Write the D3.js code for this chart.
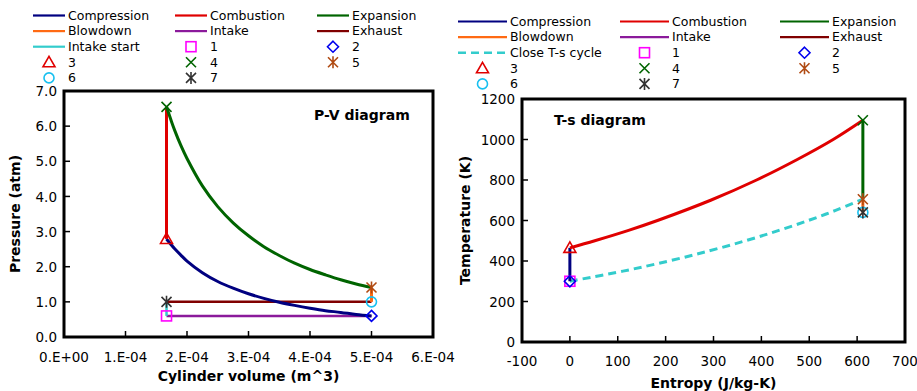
<!DOCTYPE html>
<html><head><meta charset="utf-8">
<script src="https://cdn.jsdelivr.net/npm/d3@7/dist/d3.min.js"></script>
<style>
body{margin:0;background:#fff;}
svg{display:block;font-family:"DejaVu Sans",Verdana,sans-serif;}
</style></head>
<body>
<svg id="chart" width="917" height="391"></svg>
<script>
// ---------- DATA ----------
const lineSeriesPV = ["Compression","Combustion","Expansion","Blowdown","Intake","Exhaust","Intake start"];
const lineSeriesTS = ["Compression","Combustion","Expansion","Blowdown","Intake","Exhaust","Close T-s cycle"];
const stateLabels = ["1","2","3","4","5","6","7"];

// P-V diagram
const compV = [5.0e-4,4.75e-4,4.5e-4,4.25e-4,4.0e-4,3.75e-4,3.5e-4,3.25e-4,3.0e-4,2.75e-4,2.5e-4,2.25e-4,2.0e-4,1.9e-4,1.8e-4,1.75e-4,1.667e-4];
const compP = [0.60,0.64,0.70,0.75,0.82,0.90,0.99,1.10,1.23,1.39,1.58,1.83,2.16,2.33,2.51,2.61,2.79];
const combV = [1.667e-4,1.667e-4];
const combP = [2.79,6.55];
const expV = [1.667e-4,1.75e-4,1.8e-4,1.9e-4,2.0e-4,2.25e-4,2.5e-4,2.75e-4,3.0e-4,3.25e-4,3.5e-4,3.75e-4,4.0e-4,4.25e-4,4.5e-4,4.75e-4,5.0e-4];
const expP = [6.55,6.12,5.88,5.45,5.08,4.30,3.71,3.25,2.88,2.57,2.32,2.10,1.92,1.77,1.63,1.51,1.41];
const blowV = [5.0e-4,5.0e-4];
const blowP = [1.41,1.0];
const exhV = [5.0e-4,1.667e-4];
const exhP = [1.0,1.0];
const intStartV = [1.667e-4,1.667e-4];
const intStartP = [1.0,0.6];
const intV = [1.667e-4,5.0e-4];
const intP = [0.6,0.6];
const stateV = [1.667e-4,5.0e-4,1.667e-4,1.667e-4,5.0e-4,5.0e-4,1.667e-4];
const stateP = [0.6,0.6,2.79,6.55,1.41,1.0,1.0];

// T-s diagram
const tsCompS = [0,0];
const tsCompT = [300,465];
const tsCombS = [0,52,121,183,294,390,474,550,612];
const tsCombT = [465,500,550,600,700,800,900,1000,1095];
const tsExpS = [612,612];
const tsExpT = [1095,705];
const tsBlowS = [612,612];
const tsBlowT = [705,640];
const tsCloseS = [0,111,207,291,367,435,498,555,612];
const tsCloseT = [300,350,400,450,500,550,600,650,705];
const stateS = [0,0,0,612,612,612,612];
const stateT = [300,300,465,1095,705,640,640];

const pvXTicks = [0,1e-4,2e-4,3e-4,4e-4,5e-4,6e-4];
const pvYTicks = [0,1,2,3,4,5,6,7];
const tsXTicks = [-100,0,100,200,300,400,500,600,700];
const tsYTicks = [0,200,400,600,800,1000,1200];

// ---------- STYLE ----------
const lineColors = {"Compression":"#000080","Combustion":"#e00000","Expansion":"#006400","Blowdown":"#ff6a13",
  "Intake":"#8b1a9b","Exhaust":"#800000","Intake start":"#33cccc","Close T-s cycle":"#33cccc"};
const markerDefs = [
  {type:"square",color:"#ff00ff"},
  {type:"diamond",color:"#0000ee"},
  {type:"triangle",color:"#e00000"},
  {type:"x",color:"#006400"},
  {type:"star",color:"#b04a12"},
  {type:"circle",color:"#18c0f0"},
  {type:"star",color:"#333333"}
];

const svg = d3.select("#chart");

function drawMarker(g, type, x, y, color){
  const sw = 1.6;
  if(type==="square"){
    g.append("rect").attr("x",x-5).attr("y",y-5).attr("width",10).attr("height",10)
      .attr("fill","none").attr("stroke",color).attr("stroke-width",sw);
  } else if(type==="diamond"){
    g.append("path").attr("d",`M${x},${y-5.5}L${x+5.5},${y}L${x},${y+5.5}L${x-5.5},${y}Z`)
      .attr("fill","none").attr("stroke",color).attr("stroke-width",sw);
  } else if(type==="triangle"){
    g.append("path").attr("d",`M${x},${y-6}L${x+6},${y+4.5}L${x-6},${y+4.5}Z`)
      .attr("fill","none").attr("stroke",color).attr("stroke-width",sw);
  } else if(type==="x"){
    g.append("path").attr("d",`M${x-5},${y-5}L${x+5},${y+5}M${x-5},${y+5}L${x+5},${y-5}`)
      .attr("fill","none").attr("stroke",color).attr("stroke-width",sw);
  } else if(type==="star"){
    g.append("path").attr("d",`M${x-5},${y-5}L${x+5},${y+5}M${x-5},${y+5}L${x+5},${y-5}M${x},${y-6}L${x},${y+6}`)
      .attr("fill","none").attr("stroke",color).attr("stroke-width",sw);
  } else if(type==="circle"){
    g.append("circle").attr("cx",x).attr("cy",y).attr("r",5)
      .attr("fill","none").attr("stroke",color).attr("stroke-width",sw);
  }
}

function drawLegend(y0, rowH, colX, textOff, lineLen, names, dashedName){
  const g = svg.append("g");
  const items = names.map(n=>({kind:"line",name:n})).concat(stateLabels.map((l,i)=>({kind:"marker",name:l,idx:i})));
  items.forEach((it,i)=>{
    const row = Math.floor(i/3), col = i%3;
    const cx = colX[col], cy = y0 + row*rowH;
    if(it.kind==="line"){
      const ln = g.append("line").attr("x1",cx).attr("x2",cx+lineLen).attr("y1",cy).attr("y2",cy)
        .attr("stroke",lineColors[it.name]).attr("stroke-width",2.2);
      if(it.name===dashedName) ln.attr("stroke-dasharray","8,5").attr("stroke-width",2.5);
    } else {
      drawMarker(g, markerDefs[it.idx].type, cx+lineLen/2, cy, markerDefs[it.idx].color);
    }
    g.append("text").attr("x",cx+lineLen+textOff).attr("y",cy+4.3)
      .attr("font-size","12.5px").attr("fill","#000").text(it.name);
  });
}

function drawFrame(x, y, xTicks, yTicks, xFmt, yFmt, xTitle, yTitle, title, titlePos, yTitleX, xTitleY, xLabelY){
  const g = svg.append("g");
  const [x0,x1] = x.range(), [y0,y1] = y.range();
  xTicks.forEach(t=>{
    g.append("line").attr("x1",x(t)).attr("x2",x(t)).attr("y1",y0).attr("y2",y0-6).attr("stroke","#000").attr("stroke-width",1.5);
    g.append("text").attr("x",x(t)).attr("y",xLabelY).attr("text-anchor","middle").attr("font-size","13.5px").text(xFmt(t));
  });
  yTicks.forEach(t=>{
    g.append("line").attr("x1",x0).attr("x2",x0+6).attr("y1",y(t)).attr("y2",y(t)).attr("stroke","#000").attr("stroke-width",1.5);
    g.append("text").attr("x",x0-7).attr("y",y(t)+5.2).attr("text-anchor","end").attr("font-size","13.5px").text(yFmt(t));
  });
  g.append("text").attr("x",(x0+x1)/2).attr("y",xTitleY).attr("text-anchor","middle")
    .attr("font-size","14px").attr("font-weight","bold").text(xTitle);
  g.append("text").attr("transform",`translate(${yTitleX},${(y0+y1)/2}) rotate(-90)`).attr("text-anchor","middle")
    .attr("font-size","14px").attr("font-weight","bold").text(yTitle);
  g.append("text").attr("x",titlePos[0]).attr("y",titlePos[1])
    .attr("font-size","14px").attr("font-weight","bold").text(title);
  return g;
}
function drawBorder(x,y){
  const [x0,x1] = x.range(), [y0,y1] = y.range();
  svg.append("rect").attr("x",x0).attr("y",y1).attr("width",x1-x0).attr("height",y0-y1)
    .attr("fill","none").attr("stroke","#000").attr("stroke-width",3);
}

function drawSeries(x, y, xs, ys, color, width, dashed){
  const pts = xs.map((v,i)=>[v,ys[i]]);
  const line = d3.line().x(d=>x(d[0])).y(d=>y(d[1]));
  if(xs.length>2) line.curve(d3.curveCatmullRom.alpha(0.5));
  const p = svg.append("path").attr("d",line(pts)).attr("fill","none")
    .attr("stroke",color).attr("stroke-width",width).attr("stroke-linecap","butt");
  if(dashed) p.attr("stroke-dasharray","8,5");
}

// ---------- P-V ----------
const xPV = d3.scaleLinear().domain([0,6e-4]).range([64,433]);
const yPV = d3.scaleLinear().domain([0,7]).range([337,91]);
const sciFmt = v => {
  if(v===0) return "0.E+00";
  const e = Math.floor(Math.log10(Math.abs(v))+1e-9);
  const m = Math.round(v/Math.pow(10,e));
  return `${m}.E${e<0?"-":"+"}${String(Math.abs(e)).padStart(2,"0")}`;
};
drawFrame(xPV,yPV,pvXTicks,pvYTicks,sciFmt,d3.format(".1f"),"Cylinder volume (m^3)","Pressure (atm)","P-V diagram",[314,120],20,381,362);
drawSeries(xPV,yPV,intV,intP,lineColors["Intake"],2.5);
drawSeries(xPV,yPV,exhV,exhP,lineColors["Exhaust"],2.5);
drawSeries(xPV,yPV,intStartV,intStartP,lineColors["Intake start"],2.5);
drawSeries(xPV,yPV,compV,compP,lineColors["Compression"],3);
drawSeries(xPV,yPV,combV,combP,lineColors["Combustion"],3);
drawSeries(xPV,yPV,expV,expP,lineColors["Expansion"],3);
drawSeries(xPV,yPV,blowV,blowP,lineColors["Blowdown"],3);
stateV.forEach((v,i)=>drawMarker(svg,markerDefs[i].type,xPV(v),yPV(stateP[i]),markerDefs[i].color));
drawBorder(xPV,yPV);

// ---------- T-s ----------
const xTS = d3.scaleLinear().domain([-100,700]).range([522,905]);
const yTS = d3.scaleLinear().domain([0,1200]).range([342,99]);
const plainInt = v => String(Math.round(v));
drawFrame(xTS,yTS,tsXTicks,tsYTicks,plainInt,plainInt,"Entropy (J/kg-K)","Temperature (K)","T-s diagram",[554,125],470,388,366);
drawSeries(xTS,yTS,tsCloseS,tsCloseT,lineColors["Close T-s cycle"],3,true);
drawSeries(xTS,yTS,tsCompS,tsCompT,lineColors["Compression"],3);
drawSeries(xTS,yTS,tsCombS,tsCombT,lineColors["Combustion"],3);
drawSeries(xTS,yTS,tsExpS,tsExpT,lineColors["Expansion"],3);
drawSeries(xTS,yTS,tsBlowS,tsBlowT,lineColors["Blowdown"],3);
stateS.forEach((v,i)=>drawMarker(svg,markerDefs[i].type,xTS(v),yTS(stateT[i]),markerDefs[i].color));
drawBorder(xTS,yTS);

// ---------- Legends ----------
drawLegend(15.5,15.6,[33,175,317],3,32,lineSeriesPV,null);
drawLegend(21.5,15.6,[458,620,780],3,49,lineSeriesTS,"Close T-s cycle");
</script>
</body></html>
